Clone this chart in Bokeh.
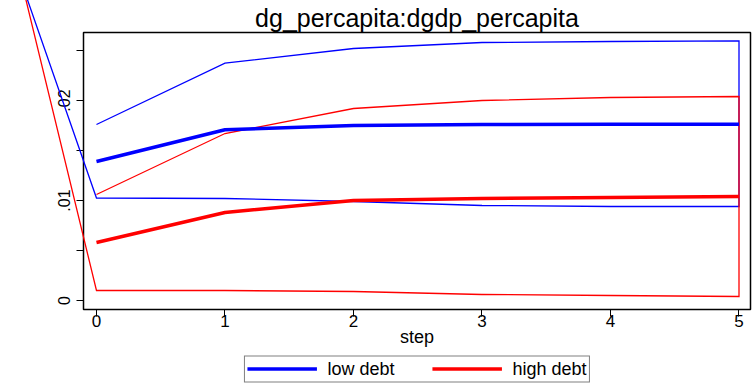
from bokeh.plotting import figure
from bokeh.layouts import column
from bokeh.models import (FixedTicker, CustomJSTickFormatter, Legend, LegendItem,
                          Range1d)
from bokeh.embed import file_html
from bokeh.resources import INLINE

# ---- data ----
steps = [0, 1, 2, 3, 4, 5]
low_irf = [0.0139, 0.01707, 0.0175, 0.0176, 0.01763, 0.01763]
low_upper = [0.0176, 0.02373, 0.0252, 0.0258, 0.0259, 0.02597]
low_lower = [0.01025, 0.0102, 0.0099, 0.0095, 0.0094, 0.0094]
high_irf = [0.0058, 0.0088, 0.0100, 0.0102, 0.0103, 0.0104]
high_upper = [0.0106, 0.0167, 0.0192, 0.0200, 0.0203, 0.0204]
high_lower = [0.0010, 0.0010, 0.0009, 0.0006, 0.0005, 0.0004]
# the band outlines run off towards a common point beyond the top-left corner
tail_x = -0.577
tail_y = 0.03155

y_major = [0.0, 0.01, 0.02]
y_minor = [0.005, 0.015, 0.025]
series_names = ["low debt", "high debt"]
title_text = "dg_percapita:dgdp_percapita"
x_title = "step"

FONT = "Liberation Sans"
BLUE = "#0000ff"
RED = "#ff0000"

p = figure(width=753, height=354, output_backend="svg", toolbar_location=None,
           x_range=Range1d(-0.101, 5.0895), y_range=Range1d(-0.0009, 0.0268),
           min_border_left=83, min_border_right=3, min_border_top=32,
           min_border_bottom=45, title=title_text)
p.title.align = "center"
p.title.text_font = FONT
p.title.text_font_size = "25px"
p.title.text_font_style = "normal"
p.title.text_color = "black"
p.title.standoff = 1

p.background_fill_color = "white"
p.border_fill_color = "white"
p.outline_line_color = "black"
p.outline_line_width = 1.5
p.xgrid.visible = False
p.ygrid.visible = False

# x axis
p.xaxis.ticker = FixedTicker(ticks=steps)
p.xaxis.axis_line_color = None
p.xaxis.major_tick_out = 7
p.xaxis.major_tick_in = 0
p.xaxis.minor_tick_out = 0
p.xaxis.major_tick_line_color = "black"
p.xaxis.major_label_text_font = FONT
p.xaxis.major_label_text_font_size = "17px"
p.xaxis.major_label_text_color = "black"
p.xaxis.major_label_standoff = -2
p.xaxis.axis_label = x_title
p.xaxis.axis_label_text_font = FONT
p.xaxis.axis_label_text_font_size = "18px"
p.xaxis.axis_label_text_font_style = "normal"
p.xaxis.axis_label_text_color = "black"
p.xaxis.axis_label_standoff = -3

# y axis
p.yaxis.ticker = FixedTicker(ticks=y_major, minor_ticks=y_minor)
p.yaxis.formatter = CustomJSTickFormatter(
    code="if (Math.abs(tick) < 1e-12) { return '0'; } return tick.toFixed(2).replace(/^0/, '');")
p.yaxis.axis_line_color = None
p.yaxis.major_label_orientation = "vertical"
p.yaxis.major_tick_out = 7
p.yaxis.major_tick_in = 0
p.yaxis.minor_tick_out = 7
p.yaxis.minor_tick_in = 0
p.yaxis.major_tick_line_color = "black"
p.yaxis.minor_tick_line_color = "black"
p.yaxis.major_label_text_font = FONT
p.yaxis.major_label_text_font_size = "16px"
p.yaxis.major_label_text_color = "black"
p.yaxis.major_label_standoff = 7

# confidence band outlines (drawn on the overlay level so the run-off tails
# past the plot frame stay visible, as in the reference)
ci_x = steps + steps[::-1] + [tail_x]
for upper, lower, col in [(low_upper, low_lower, BLUE), (high_upper, high_lower, RED)]:
    p.line(ci_x, upper + lower[::-1] + [tail_y], line_color=col, line_width=1.3,
           line_join="miter", level="overlay")

# impulse responses
p.line(steps, low_irf, line_color=BLUE, line_width=3.5, level="overlay")
p.line(steps, high_irf, line_color=RED, line_width=3.5, level="overlay")

# legend strip underneath: same series drawn with the same styles, but the
# strip's x range lies outside the data so only the legend keys show
q = figure(width=753, height=29, output_backend="svg", toolbar_location=None,
           min_border_left=83, min_border_right=3, min_border_top=0,
           min_border_bottom=0, x_range=Range1d(100, 101), y_range=Range1d(0, 1))
q.axis.visible = False
q.grid.visible = False
q.outline_line_color = None
q.background_fill_color = "white"
q.border_fill_color = "white"
k_low = q.line(steps, low_irf, line_color=BLUE, line_width=3.5)
k_high = q.line(steps, high_irf, line_color=RED, line_width=3.5)
legend = Legend(items=[LegendItem(label=series_names[0], renderers=[k_low]),
                       LegendItem(label=series_names[1], renderers=[k_high])],
                orientation="horizontal", location="center", padding=2,
                spacing=37, glyph_width=70, glyph_height=16, label_height=16,
                label_standoff=11, label_text_font=FONT,
                label_text_font_size="18px", label_text_color="black",
                border_line_color="black", border_line_width=1,
                background_fill_color="white", background_fill_alpha=1, margin=0)
q.add_layout(legend)

layout = column(p, q, spacing=0)
open("out.html", "w").write(file_html(layout, INLINE))
